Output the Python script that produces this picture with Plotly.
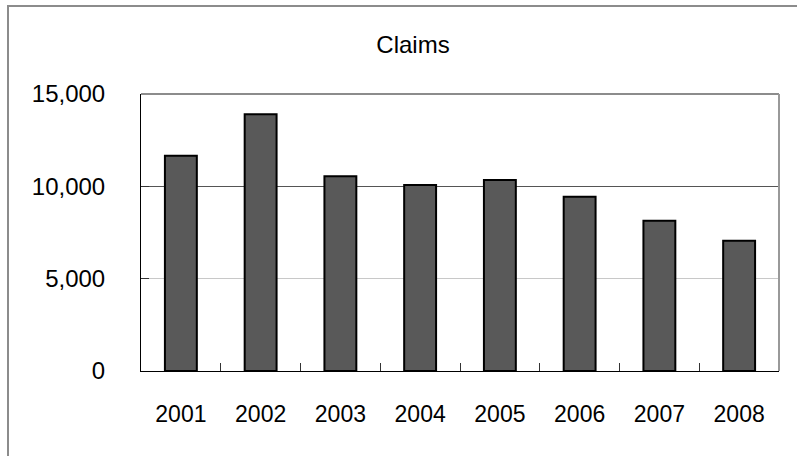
import plotly.graph_objects as go

# Annual claim counts
years = ["2001", "2002", "2003", "2004", "2005", "2006", "2007", "2008"]
claims = [11650, 13900, 10540, 10070, 10340, 9440, 8140, 7050]

y_ticks = [0, 5000, 10000, 15000]
y_tick_text = ["0", "5,000", "10,000", "15,000"]

FONT = "Liberation Sans, Arial, sans-serif"

fig = go.Figure()
fig.add_trace(go.Bar(
    x=years,
    y=claims,
    marker=dict(color="#595959", line=dict(color="#000000", width=2)),
    hoverinfo="x+y",
))
# draws nothing itself; it only brings up the overlay axis that carries
# the darker middle gridline
fig.add_trace(go.Scatter(
    x=years,
    y=claims,
    yaxis="y2",
    mode="none",
    hoverinfo="skip",
    showlegend=False,
))

# grey top and right edges of the plot area
fig.add_shape(type="line", xref="paper", yref="paper", x0=0, x1=1, y0=1, y1=1,
              line=dict(color="#8c8c8c", width=2))
fig.add_shape(type="line", xref="paper", yref="paper", x0=1, x1=1, y0=0, y1=1,
              line=dict(color="#999999", width=2))
# outer chart frame (continues past the visible page edge)
fig.add_shape(type="rect", xref="paper", yref="paper",
              x0=-133 / 638, x1=1.2, y0=-0.5, y1=1 + 88 / 277,
              line=dict(color="#8c8c8c", width=2), layer="below")

fig.update_layout(
    width=797,
    height=456,
    margin=dict(l=141, r=18, t=94, b=85),
    paper_bgcolor="#ffffff",
    plot_bgcolor="#ffffff",
    font=dict(family=FONT, size=24, color="#000000"),
    showlegend=False,
    bargap=0.6,
    title=dict(
        text="Claims",
        x=413 / 797,
        xanchor="center",
        xref="container",
        y=1 - 45 / 456,
        yanchor="middle",
        yref="container",
        font=dict(family=FONT, size=24, color="#000000"),
    ),
    xaxis=dict(
        type="category",
        categoryorder="array",
        categoryarray=years,
        showline=True,
        linecolor="#000000",
        linewidth=1,
        ticks="inside",
        tickson="boundaries",
        ticklen=8,
        tickcolor="#333333",
        showgrid=False,
        tickfont=dict(family=FONT, size=23, color="#000000"),
        ticklabelstandoff=22,
    ),
    yaxis=dict(
        range=[0, 15000],
        tickvals=y_ticks,
        ticktext=y_tick_text,
        showline=True,
        linecolor="#000000",
        linewidth=1,
        ticks="inside",
        ticklen=8,
        tickcolor="#333333",
        showgrid=True,
        gridcolor="#c8c8c8",
        gridwidth=1,
        zeroline=False,
        tickfont=dict(family=FONT, size=24, color="#000000"),
        ticklabelstandoff=30,
    ),
    yaxis2=dict(
        overlaying="y",
        side="left",
        range=[0, 15000],
        tickvals=[y_ticks[2]],
        showticklabels=False,
        ticks="",
        showline=False,
        showgrid=True,
        gridcolor="#555555",
        gridwidth=1,
        zeroline=False,
    ),
)

fig.write_html("out.html")
